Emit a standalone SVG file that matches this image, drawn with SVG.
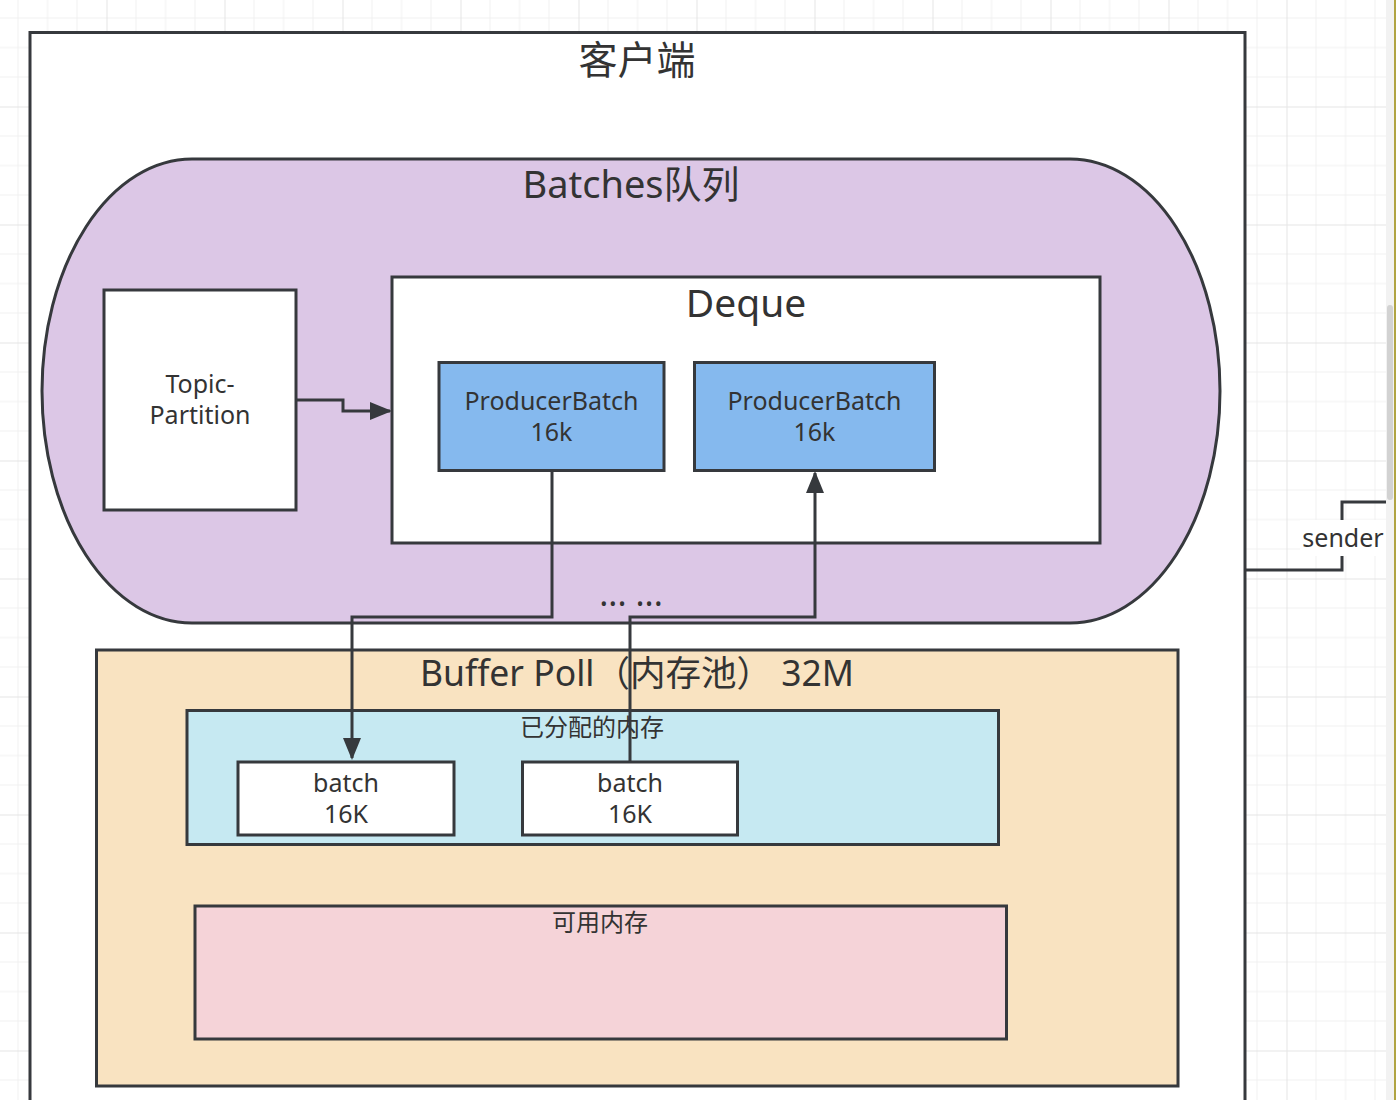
<svg xmlns="http://www.w3.org/2000/svg" width="1396" height="1100" viewBox="0 0 1396 1100">
<style>
text{font-family:"Noto Sans","Noto Sans CJK SC",sans-serif;fill:#333333;text-anchor:middle}
.box{stroke:#36393d;stroke-width:3}
.edge{fill:none;stroke:#36393d;stroke-width:3}
</style>
<defs>
<pattern id="grid" patternUnits="userSpaceOnUse" x="-11.5" y="-11.5" width="118" height="118">
<path d="M29.5,0V118M59,0V118M88.5,0V118M0,29.5H118M0,59H118M0,88.5H118" fill="none" stroke="#f0f0f0" stroke-width="1"/>
<path d="M0.5,0V118M0,0.5H118" fill="none" stroke="#e5e5e5" stroke-width="1"/>
</pattern>
<marker id="arr" viewBox="0 0 22 18" refX="20" refY="9" markerWidth="22" markerHeight="18" markerUnits="userSpaceOnUse" orient="auto">
<path d="M0,0L22,9L0,18z" fill="#36393d"/>
</marker>
</defs>
<rect width="1396" height="1100" fill="#ffffff"/>
<rect width="1396" height="1100" fill="url(#grid)"/>
<rect x="1386" y="0" width="10" height="1100" fill="#f2f2f2"/>
<rect x="1387" y="305" width="6" height="195" rx="3" fill="#d2d2d2"/>
<rect x="1394" y="0" width="2" height="1100" fill="#b0a443"/>

<g id="client">
<rect class="box" x="30" y="32.5" width="1215" height="1090" fill="#ffffff"/>
<text x="637" y="74" font-size="39">客户端</text>
</g>

<g id="batches">
<rect class="box" x="42" y="159" width="1178" height="464" rx="150" ry="232" fill="#dcc7e6"/>
<text x="631" y="198" font-size="38">Batches队列</text>
<text x="631" y="606" font-size="34">... ...</text>
</g>

<g id="topic-partition">
<rect class="box" x="104" y="290" width="192" height="220" fill="#ffffff"/>
<text font-size="25"><tspan x="200" y="393">Topic-</tspan><tspan x="200" y="424">Partition</tspan></text>
</g>

<g id="deque">
<rect class="box" x="392" y="277" width="708" height="266" fill="#ffffff"/>
<text x="746" y="317" font-size="39">Deque</text>
</g>

<g id="producer-batch-1">
<rect class="box" x="439" y="362.5" width="225" height="108" fill="#85b9ee"/>
<text font-size="25"><tspan x="551.5" y="410">ProducerBatch</tspan><tspan x="551.5" y="441">16k</tspan></text>
</g>

<g id="producer-batch-2">
<rect class="box" x="694.5" y="362.5" width="240" height="108" fill="#85b9ee"/>
<text font-size="25"><tspan x="814.5" y="410">ProducerBatch</tspan><tspan x="814.5" y="441">16k</tspan></text>
</g>

<g id="buffer-pool">
<rect class="box" x="96.5" y="650" width="1081.5" height="436" fill="#f9e3c1"/>
<text x="637" y="686" font-size="35.5">Buffer Poll（内存池）  32M</text>
</g>

<g id="allocated">
<rect class="box" x="187" y="710.5" width="811.5" height="134" fill="#c6e9f2"/>
<text x="592" y="736" font-size="24">已分配的内存</text>
</g>

<g id="batch-1">
<rect class="box" x="238" y="762" width="216" height="73" fill="#ffffff"/>
<text font-size="25"><tspan x="346" y="792">batch</tspan><tspan x="346" y="823">16K</tspan></text>
</g>

<g id="batch-2">
<rect class="box" x="522.5" y="762" width="215" height="73" fill="#ffffff"/>
<text font-size="25"><tspan x="630" y="792">batch</tspan><tspan x="630" y="823">16K</tspan></text>
</g>

<g id="available">
<rect class="box" x="195" y="906" width="811.5" height="133" fill="#f5d3d8"/>
<text x="600" y="931" font-size="24">可用内存</text>
</g>

<g id="connectors">
<path class="edge" d="M297,400H343V411H390" marker-end="url(#arr)"/>
<path class="edge" d="M552,471V617H352V758" marker-end="url(#arr)"/>
<path class="edge" d="M630,762V617H815V473" marker-end="url(#arr)"/>
<path class="edge" d="M1245,570H1342V502H1386"/>
<rect x="1300" y="520" width="86" height="36" fill="#ffffff"/>
<text x="1343" y="547" font-size="25">sender</text>
</g>
</svg>
